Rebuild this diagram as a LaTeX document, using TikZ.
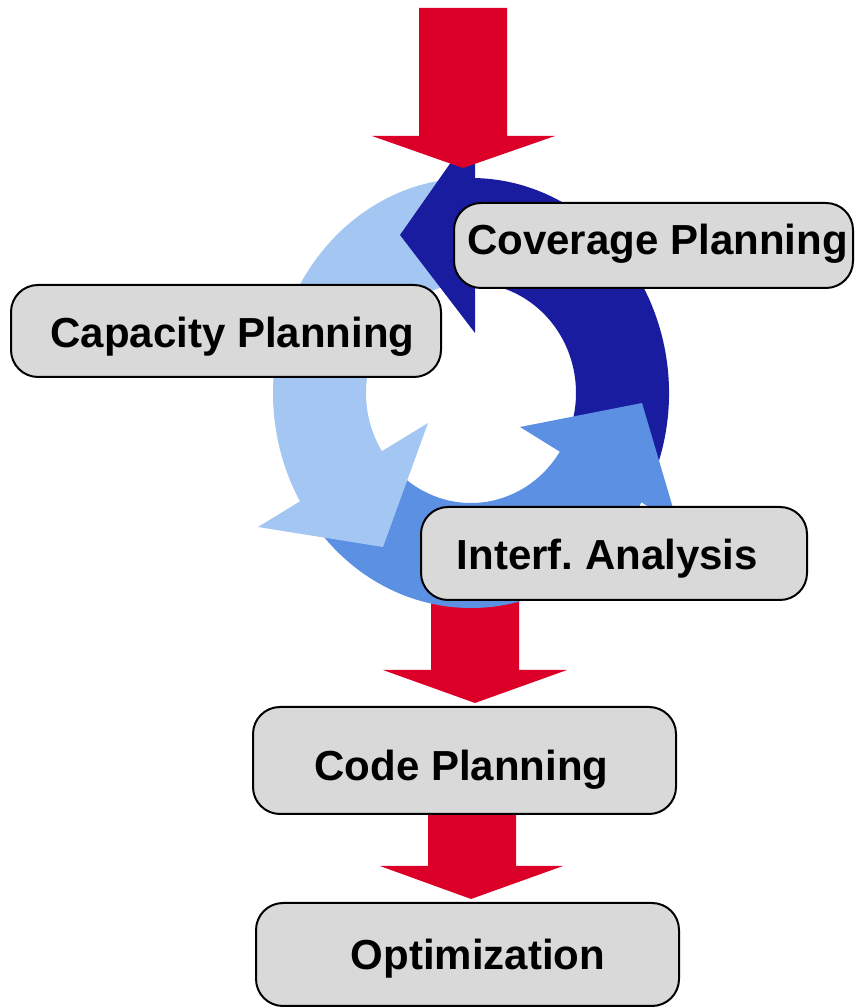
\documentclass[tikz,border=0pt]{standalone}
\usepackage{fontspec}
\setmainfont{Liberation Sans}
\definecolor{redA}{RGB}{220,0,40}
\definecolor{darkB}{RGB}{26,28,160}
\definecolor{medB}{RGB}{92,144,226}
\definecolor{lightB}{RGB}{164,198,242}
\definecolor{boxgray}{RGB}{217,217,217}
\begin{document}
\begin{tikzpicture}[x=1pt,y=1pt,
  box/.style={draw=black, line width=2pt, fill=boxgray, rounded corners=27pt, inner sep=0pt},
  lbl/.style={anchor=base, font=\fontsize{42}{50}\selectfont\bfseries, inner sep=0pt},
  redarrow/.style={fill=redA}]
\useasboundingbox (0,0) rectangle (855,1008);

% red arrow between ring and Code Planning (under the ring)
\fill[redarrow] (431,470) -- (431,338) -- (383,338) -- (475,305) -- (567,338) -- (519,338) -- (519,470) -- cycle;

% ring of three arrows
\begin{scope}[shift={(471,615)}]
  % bodies
  \fill[lightB] (92:198pt and 215pt) arc[start angle=92, end angle=213, x radius=198pt, y radius=215pt]
     -- (213:105pt and 110pt) arc[start angle=213, end angle=92, x radius=105pt, y radius=110pt] -- cycle;
  \fill[medB] (215:198pt and 215pt) arc[start angle=215, end angle=333, x radius=198pt, y radius=215pt]
     -- (333:105pt and 110pt) arc[start angle=333, end angle=215, x radius=105pt, y radius=110pt] -- cycle;
  \fill[darkB] (-27:198pt and 215pt) arc[start angle=-27, end angle=91, x radius=198pt, y radius=215pt]
     -- (91:105pt and 110pt) arc[start angle=91, end angle=-27, x radius=105pt, y radius=110pt] -- cycle;
\end{scope}
% heads
\fill[darkB] (475,880) -- (475,675) -- (400,773) -- cycle;
\fill[medB] (520,581) -- (678,483) -- (642,605) -- cycle;
\fill[lightB] (428,585) -- (258,481) -- (383,461) -- cycle;

% top red arrow
\fill[redarrow] (419,1000) -- (419,872) -- (372,872) -- (463,840) -- (555,872) -- (507,872) -- (507,1000) -- cycle;

% red arrow between Code Planning and Optimization
\fill[redarrow] (428,200) -- (428,142) -- (380,142) -- (471,109) -- (563,142) -- (516,142) -- (516,200) -- cycle;

% boxes
\node[box, minimum width=399pt, minimum height=85pt] (cov) at (653.5,762.5) {};
\node[box, minimum width=430pt, minimum height=92pt] (cap) at (226,677) {};
\node[box, minimum width=386pt, minimum height=93pt] (intf) at (614,454.5) {};
\node[box, minimum width=423pt, minimum height=107pt] (code) at (464.5,247.5) {};
\node[box, minimum width=423pt, minimum height=103pt] (opt) at (467.5,53.5) {};

% labels
\node[lbl] (covt) at (657.5,753) {Coverage Planning};
\node[lbl] (capt) at (232.5,660) {Capacity Planning};
\node[lbl] (intft) at (607.5,438) {Interf.\ Analysis};
\node[lbl] (codet) at (461.5,227) {Code Planning};
\node[lbl] (optt) at (478,38) {Optimization};
\end{tikzpicture}
\end{document}
